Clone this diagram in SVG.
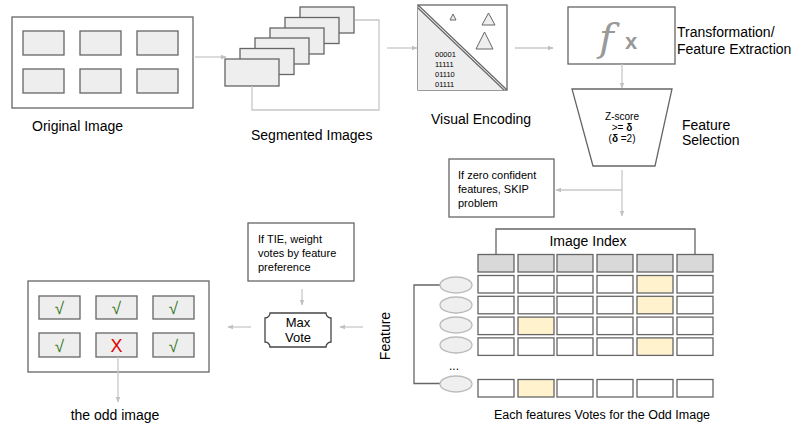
<svg xmlns="http://www.w3.org/2000/svg" width="798" height="423" viewBox="0 0 798 423">
<defs>
<marker id="ah" viewBox="0 0 10 10" refX="9" refY="5" markerWidth="6" markerHeight="6" orient="auto" markerUnits="userSpaceOnUse">
<path d="M0,1 L10,5 L0,9 Z" fill="#c0c0c0"/>
</marker>
</defs>
<style>
text{font-family:"Liberation Sans",Arial,sans-serif;fill:#000}
.frame{fill:#fff;stroke:#666;stroke-width:1.3}
.cell{fill:#eeeeee;stroke:#666;stroke-width:1.3}
.hdr{fill:#d9d9d9;stroke:#666;stroke-width:1.3}
.gc{fill:#fff;stroke:#666;stroke-width:1.3}
.hl{fill:#fff2cc;stroke:#666;stroke-width:1.3}
.ell{fill:#efefef;stroke:#bbb;stroke-width:1.3}
.conn{fill:none;stroke:#c8c8c8;stroke-width:1.3}
.arr{fill:none;stroke:#c8c8c8;stroke-width:1.3;marker-end:url(#ah)}
.lbl{font-size:14px}
.sm{font-size:11px}
.z{font-size:10px;text-anchor:middle}
.ck{font-size:17px;fill:#38761d;text-anchor:middle}
</style>

<g id="original-image">
<rect class="frame" x="12" y="17" width="181" height="91"/>
<rect class="cell" x="23" y="31" width="41" height="24"/>
<rect class="cell" x="80" y="31" width="41" height="24"/>
<rect class="cell" x="137" y="31" width="41" height="24"/>
<rect class="cell" x="23" y="69" width="41" height="24"/>
<rect class="cell" x="80" y="69" width="41" height="24"/>
<rect class="cell" x="137" y="69" width="41" height="24"/>
<text class="lbl" x="32" y="131">Original Image</text>
</g>

<g id="segmented-images">
<rect class="cell" x="300" y="7" width="54" height="26"/>
<rect class="cell" x="285" y="17.5" width="54" height="26"/>
<rect class="cell" x="270" y="28" width="54" height="26"/>
<rect class="cell" x="255" y="38" width="54" height="26"/>
<rect class="cell" x="240" y="48.5" width="54" height="26"/>
<rect class="cell" x="225" y="59" width="54" height="27"/>
<text class="lbl" x="251" y="140">Segmented Images</text>
</g>

<g id="visual-encoding">
<rect x="418" y="5" width="89" height="85" fill="#fff" stroke="#666" stroke-width="1.3"/>
<path d="M418,7 L505,90 L418,90 Z" fill="#eeeeee"/>
<line x1="418" y1="5" x2="507" y2="90" stroke="#666" stroke-width="1.2"/>
<line x1="418" y1="8" x2="504" y2="90" stroke="#666" stroke-width="1.2"/>
<path d="M450,20 L453,14 L456,20 Z" fill="#eee" stroke="#666" stroke-width="1"/>
<path d="M482,25 L488.5,13 L495,25 Z" fill="#eee" stroke="#666" stroke-width="1"/>
<path d="M476,49 L484.5,32 L493,49 Z" fill="#eee" stroke="#666" stroke-width="1"/>
<text x="435" y="57" font-size="7.5">00001</text>
<text x="435" y="67" font-size="7.5">11111</text>
<text x="435" y="77" font-size="7.5">01110</text>
<text x="435" y="87" font-size="7.5">01111</text>
<text class="lbl" x="431" y="124">Visual Encoding</text>
</g>

<g id="feature-extraction">
<rect class="frame" x="568" y="7" width="107" height="57"/>
<text x="599" y="51" font-style="italic" font-size="40" style="fill:#999;font-family:'DejaVu Serif',serif">f</text>
<text x="625" y="49" font-size="22" font-weight="bold" style="fill:#999">x</text>
<text class="lbl" x="677" y="37">Transformation/</text>
<text class="lbl" x="677" y="54">Feature Extraction</text>
</g>

<g id="feature-selection">
<path d="M572,89 L672,89 L655,166 L593,166 Z" fill="#fff" stroke="#666" stroke-width="1.3"/>
<text class="z" x="622" y="120">Z-score</text>
<text class="z" x="622" y="131">&gt;= <tspan font-weight="bold">δ</tspan></text>
<text class="z" x="622" y="142">(<tspan font-weight="bold">δ</tspan> =2)</text>
<text class="lbl" x="682" y="130">Feature</text>
<text class="lbl" x="682" y="145">Selection</text>
</g>

<g id="skip-note">
<rect class="frame" x="449" y="159" width="105" height="58"/>
<text class="sm" x="458" y="179">If zero confident</text>
<text class="sm" x="458" y="193">features, SKIP</text>
<text class="sm" x="458" y="207">problem</text>
</g>

<g id="image-index">
<path d="M496,254 V229 H695 V254" fill="none" stroke="#666" stroke-width="1.3"/>
<text class="lbl" x="588" y="246" text-anchor="middle">Image Index</text>
<rect class="hdr" x="478" y="254.5" width="36" height="17.5"/>
<rect class="hdr" x="518" y="254.5" width="36" height="17.5"/>
<rect class="hdr" x="557" y="254.5" width="36" height="17.5"/>
<rect class="hdr" x="597" y="254.5" width="36" height="17.5"/>
<rect class="hdr" x="637" y="254.5" width="36" height="17.5"/>
<rect class="hdr" x="677" y="254.5" width="36" height="17.5"/>
</g>

<g id="vote-grid">
<rect class="gc" x="478" y="275.5" width="36" height="17.5"/>
<rect class="gc" x="518" y="275.5" width="36" height="17.5"/>
<rect class="gc" x="557" y="275.5" width="36" height="17.5"/>
<rect class="gc" x="597" y="275.5" width="36" height="17.5"/>
<rect class="hl" x="637" y="275.5" width="36" height="17.5"/>
<rect class="gc" x="677" y="275.5" width="36" height="17.5"/>

<rect class="gc" x="478" y="296.3" width="36" height="17.5"/>
<rect class="gc" x="518" y="296.3" width="36" height="17.5"/>
<rect class="gc" x="557" y="296.3" width="36" height="17.5"/>
<rect class="gc" x="597" y="296.3" width="36" height="17.5"/>
<rect class="hl" x="637" y="296.3" width="36" height="17.5"/>
<rect class="gc" x="677" y="296.3" width="36" height="17.5"/>

<rect class="gc" x="478" y="317.1" width="36" height="17.5"/>
<rect class="hl" x="518" y="317.1" width="36" height="17.5"/>
<rect class="gc" x="557" y="317.1" width="36" height="17.5"/>
<rect class="gc" x="597" y="317.1" width="36" height="17.5"/>
<rect class="gc" x="637" y="317.1" width="36" height="17.5"/>
<rect class="gc" x="677" y="317.1" width="36" height="17.5"/>

<rect class="gc" x="478" y="337.9" width="36" height="17.5"/>
<rect class="gc" x="518" y="337.9" width="36" height="17.5"/>
<rect class="gc" x="557" y="337.9" width="36" height="17.5"/>
<rect class="gc" x="597" y="337.9" width="36" height="17.5"/>
<rect class="hl" x="637" y="337.9" width="36" height="17.5"/>
<rect class="gc" x="677" y="337.9" width="36" height="17.5"/>

<rect class="gc" x="478" y="379.5" width="36" height="17.5"/>
<rect class="hl" x="518" y="379.5" width="36" height="17.5"/>
<rect class="gc" x="557" y="379.5" width="36" height="17.5"/>
<rect class="gc" x="597" y="379.5" width="36" height="17.5"/>
<rect class="gc" x="637" y="379.5" width="36" height="17.5"/>
<rect class="gc" x="677" y="379.5" width="36" height="17.5"/>
<text x="602" y="419" font-size="12.5" text-anchor="middle">Each features Votes for the Odd Image</text>
</g>

<g id="features">
<path d="M440,285 H414 V383.5 H440" fill="none" stroke="#666" stroke-width="1.3"/>
<ellipse class="ell" cx="456" cy="285" rx="16" ry="8"/>
<ellipse class="ell" cx="456" cy="305" rx="16" ry="8"/>
<ellipse class="ell" cx="456" cy="325" rx="16" ry="8"/>
<ellipse class="ell" cx="456" cy="345" rx="16" ry="8"/>
<ellipse class="ell" cx="456" cy="384" rx="16" ry="8"/>
<text x="454" y="370" font-size="12" text-anchor="middle">...</text>
<text class="lbl" x="0" y="0" transform="translate(390,336) rotate(-90)" text-anchor="middle">Feature</text>
</g>

<g id="tie-note">
<rect class="frame" x="248" y="223" width="106" height="58"/>
<text class="sm" x="258" y="243">If TIE, weight</text>
<text class="sm" x="258" y="257">votes by feature</text>
<text class="sm" x="258" y="271">preference</text>
</g>

<g id="max-vote">
<path d="M270,313 H326 A5,5 0 0 0 331,318 V342 A5,5 0 0 0 326,347 H270 A5,5 0 0 0 265,342 V318 A5,5 0 0 0 270,313 Z" fill="#fff" stroke="#444" stroke-width="1.3"/>
<text x="298" y="327" font-size="13" text-anchor="middle">Max</text>
<text x="298" y="342" font-size="13" text-anchor="middle">Vote</text>
</g>

<g id="result">
<rect class="frame" x="28" y="281" width="181" height="91"/>
<rect class="cell" x="39" y="296" width="41" height="23"/>
<rect class="cell" x="96" y="296" width="41" height="23"/>
<rect class="cell" x="153" y="296" width="41" height="23"/>
<rect class="cell" x="39" y="333" width="41" height="24"/>
<rect class="cell" x="96" y="333" width="41" height="24"/>
<rect class="cell" x="153" y="333" width="41" height="24"/>
<text class="ck" x="59.5" y="314">√</text>
<text class="ck" x="116.5" y="314">√</text>
<text class="ck" x="173.5" y="314">√</text>
<text class="ck" x="59.5" y="352">√</text>
<text x="116.5" y="352" font-size="18" text-anchor="middle" style="fill:#e00000">X</text>
<text class="ck" x="173.5" y="352">√</text>
<text class="lbl" x="115" y="420" text-anchor="middle">the odd image</text>
</g>

<g id="connectors">
<line class="arr" x1="195" y1="57" x2="226" y2="57"/>
<polyline class="conn" points="355,20 379,20 379,110 252,110 252,86"/>
<line class="arr" x1="387" y1="48" x2="417" y2="48"/>
<line class="arr" x1="515" y1="48" x2="553" y2="48"/>
<line class="arr" x1="622" y1="64" x2="622" y2="88"/>
<line class="arr" x1="622" y1="170" x2="622" y2="216"/>
<line class="arr" x1="622" y1="190" x2="556" y2="190"/>
<line class="arr" x1="363" y1="327" x2="340" y2="327"/>
<line class="arr" x1="302" y1="289" x2="302" y2="305"/>
<line class="arr" x1="251" y1="327" x2="228" y2="327"/>
<line class="arr" x1="118" y1="357" x2="118" y2="402"/>
</g>
</svg>
